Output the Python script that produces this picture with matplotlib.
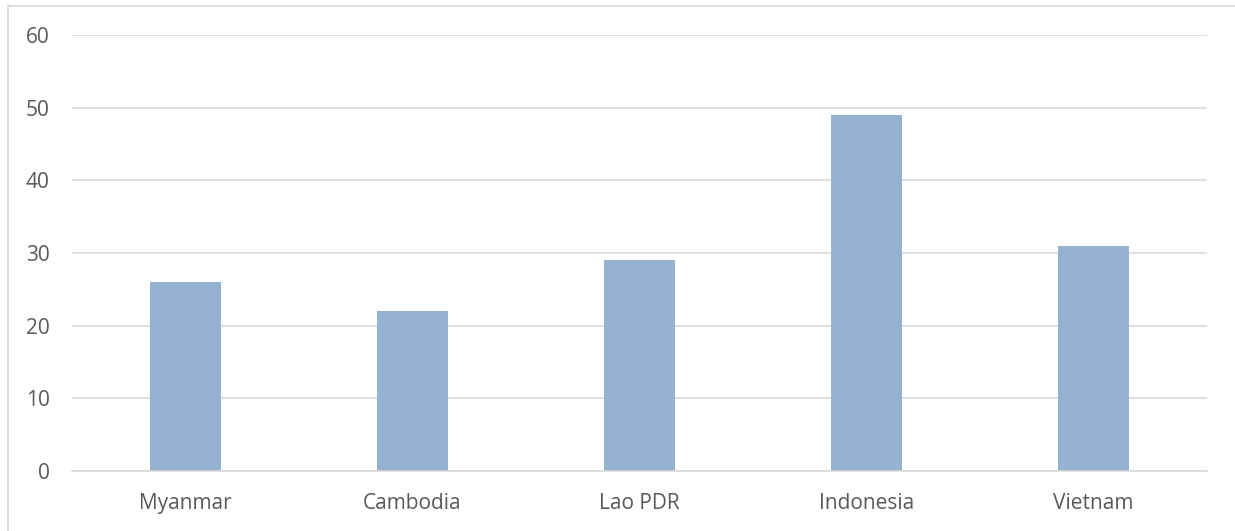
import matplotlib.pyplot as plt
from matplotlib.lines import Line2D

# data
countries = ["Myanmar", "Cambodia", "Lao PDR", "Indonesia", "Vietnam"]
values = [26, 22, 29, 49, 31]
yticks = [0, 10, 20, 30, 40, 50, 60]

plt.rcParams["font.family"] = ["Open Sans", "DejaVu Sans"]

fig = plt.figure(figsize=(12.35, 5.31), dpi=100)
ax = fig.add_axes([72 / 1235, 1 - 471 / 531, 1135 / 1235, 436 / 531])

ax.bar(range(len(countries)), values, width=0.31, color="#95B3D1", zorder=2)

ax.set_xlim(-0.5, len(countries) - 0.5)
ax.set_ylim(0, 60)
ax.set_yticks(yticks)
ax.set_xticks(range(len(countries)))
ax.set_xticklabels(countries)
ax.grid(axis="y", color="#D9D9D9", linewidth=1.2, zorder=0)

for s in ["top", "right", "left"]:
    ax.spines[s].set_visible(False)
ax.spines["bottom"].set_color("#D9D9D9")
ax.spines["bottom"].set_linewidth(1.2)

ax.tick_params(axis="both", length=0, labelsize=15, labelcolor="#595959")
ax.tick_params(axis="y", pad=16)
ax.tick_params(axis="x", pad=16)

# chart area border (left and top edges visible)
fig.add_artist(Line2D([8 / 1235, 8 / 1235], [0, 1 - 6 / 531], color="#D9D9D9", linewidth=1.2))
fig.add_artist(Line2D([8 / 1235, 1], [1 - 6 / 531, 1 - 6 / 531], color="#D9D9D9", linewidth=1.2))

plt.savefig("out.png", dpi=100)
